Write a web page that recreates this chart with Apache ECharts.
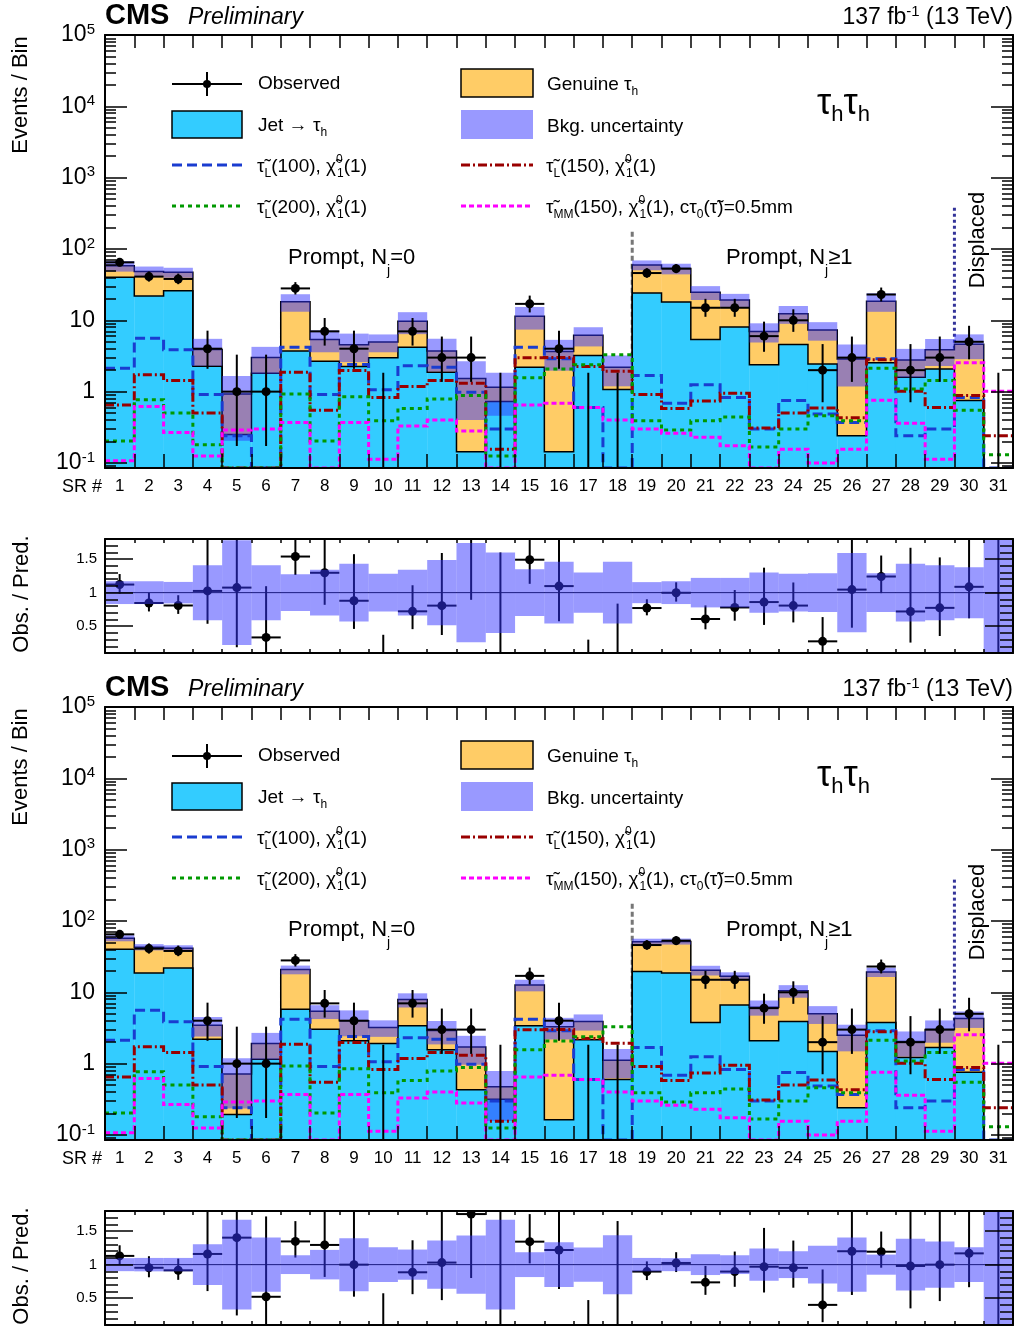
<!DOCTYPE html>
<html><head><meta charset="utf-8"><title>CMS tau_h tau_h signal regions</title>
<script src="https://cdn.jsdelivr.net/npm/echarts@6.0.0/dist/echarts.min.js"></script>
<style>html,body{margin:0;padding:0;background:#fff;}#chart{width:1016px;height:1330px;}</style>
</head><body><div id="chart"></div>
<script>
// ================= DATA =================
const binLabels = ['1','2','3','4','5','6','7','8','9','10','11','12','13','14','15','16','17','18','19','20','21','22','23','24','25','26','27','28','29','30','31'];
const observed = [65,41,38,4,1,1,28,7,4,0,7,3,3,0,17,4,0,0,46,53,15,15,6,10,2,3,23,2,3,5,0];
const obsLow  = [57.2,34.9,32.1,2.09,0.173,0.173,23.0,4.42,2.09,0,4.42,1.37,1.37,0,12.9,2.09,0,0,39.5,46.0,11.2,11.2,3.62,6.89,0.71,1.37,18.4,0.71,1.37,2.84,0];
const obsHigh = [74.1,48.4,45.2,7.16,3.30,3.30,34.3,10.77,7.16,1.84,10.77,5.92,5.92,1.84,22.2,7.16,1.84,1.84,53.8,61.3,20.0,20.0,9.58,14.27,4.64,5.92,28.8,4.64,5.92,8.38,1.84];

// upper chart
const jetPrefit     = [40,22,26,2.27,0.25,1.81,3.7,2.67,2.25,2.98,4.2,1.87,0.144,0.73,2.2,0.144,3.2,1.07,24.2,18.1,5.4,8.05,2.38,4.59,2.45,0.24,2.54,1.59,2.08,0.75,0];
const genuinePrefit = [18,26.5,21,1.63,0.68,1.2,14.5,2.73,2.3,1.97,5.5,1.85,1.39,0.42,9.2,3.5,2.95,1.13,35.5,35,19.3,11.2,4.6,7.8,4.85,2.63,16,1.19,1.8,3.85,0];
const uncPrefit     = [0.17,0.17,0.16,0.41,0.78,0.41,0.275,0.34,0.43,0.28,0.34,0.485,0.74,0.6,0.35,0.46,0.30,0.46,0.157,0.17,0.22,0.22,0.30,0.28,0.29,0.59,0.29,0.43,0.41,0.38,0];
// lower chart
const jetPostfit     = [40,18.7,22,2.2,0.193,1.15,5.8,3.04,2.09,1.91,3.4,1.56,0.43,0.316,3.4,0.164,2.16,0.60,19.6,18.7,3.78,6.63,2.09,3.9,1.48,0.24,3.78,1.22,1.68,0.76,0];
const genuinePostfit = [17.5,24.3,19.5,1.25,0.52,0.77,15,2.37,1.91,1.3,4.5,1.35,1.28,0.158,9.26,3.12,1.74,0.515,31.7,33,16.6,10.1,4.1,6.6,3.52,2.26,15.5,0.82,1.32,3.52,0];
const uncPostfit     = [0.097,0.1,0.1,0.305,0.67,0.405,0.14,0.22,0.395,0.26,0.225,0.36,0.435,0.67,0.185,0.335,0.255,0.44,0.1,0.097,0.155,0.14,0.24,0.2,0.28,0.405,0.15,0.385,0.345,0.26,0];

// signals (same in both charts)
const sigStauL100  = [2.13,5.6,3.87,0.91,0.24,0,4.2,0.91,2.4,1.06,2.3,2.2,0.98,0.30,4.2,2.9,0.60,0,1.68,0.69,1.25,0.83,0.30,0.75,0.485,0.37,2.9,0.24,0.30,0.83,0];
const sigStauL150  = [0.65,1.72,1.43,0.50,0,0,1.87,0.55,1.98,0.83,1.18,1.43,1.31,0.156,2.98,3.0,2.25,1.93,0.91,0.58,0.74,0.95,0.31,0.50,0.59,0.43,2.8,1.01,0.60,0.88,0.24];
const sigStauL200  = [0.204,0.77,0.50,0.18,0,0,0.93,0.204,0.85,0.39,0.58,0.79,0.88,0.125,1.56,2.08,2.38,3.28,0.39,0.29,0.39,0.44,0.168,0.30,0.46,0.39,2.13,1.09,1.43,0.55,0.13];
const sigStauMM150 = [0.107,0.62,0.267,0.125,0.29,0.30,0.37,0,0.37,0.113,0.33,0.40,0.28,0,0.65,0.69,0.60,0.40,0.30,0.26,0.23,0.174,0,0.156,0.10,0.156,0.76,0.36,0.113,2.54,1.01];

// region separators: bin edge index and top value
const regionEdges = [18, 29];
const regionTops  = [175, 380];

// tick labels
const mainYTickExp  = [-1, 0, 1, 2, 3, 4, 5];
const mainYTickText = ['{b|10}{s|-1}', '{b|1}', '{b|10}', '{b|10}{s|2}', '{b|10}{s|3}', '{b|10}{s|4}', '{b|10}{s|5}'];
const ratioYTicks    = [0.5, 1, 1.5];
const ratioYTickText = ['0.5', '1', '1.5'];

// ================= STYLE / LAYOUT =================
const FONT = "'Liberation Sans', Arial, Helvetica, sans-serif";
const YMIN = 0.085, YMAX = 1e5, RMIN = 0.1, RMAX = 1.8;
const LOGMIN = Math.log10(YMIN);
const C_JET = '#33ccff', C_GEN = '#ffcc66', C_BAND = 'rgba(51,51,255,0.5)', C_BAND_LEG = '#9999ff';
const SIG_STYLE = [
  {arr: sigStauL100,  color: '#1a3cd0', dash: [10, 5]},
  {arr: sigStauL150,  color: '#990000', dash: [9, 3, 2, 3]},
  {arr: sigStauL200,  color: '#009900', dash: [4, 4]},
  {arr: sigStauMM150, color: '#ff00ff', dash: [5, 3]}
];
const REGION_STYLE = [{color: '#777777', dash: [5, 3]}, {color: '#333399', dash: [3, 3]}];
const panels = [
  {dy: 0,   jet: jetPrefit,  gen: genuinePrefit,  unc: uncPrefit},
  {dy: 672, jet: jetPostfit, gen: genuinePostfit, unc: uncPostfit}
];

const minorExp = [];
for (let d = -2; d <= 4; d++) for (let k = 2; k <= 9; k++) {
  const v = k * Math.pow(10, d);
  if (v > YMIN && v < YMAX) minorExp.push(Math.log10(v));
}

function lv(v) { return v > YMIN ? v : YMIN; }
function rc(v) { return Math.min(Math.max(v, RMIN - 0.3), RMAX + 0.3); }
function edgeX(api, i) {
  const a = api.coord([0, 1])[0], b = api.coord([1, 1])[0];
  return a + (i - 0.5) * (b - a);
}
function ln(x1, y1, x2, y2, stroke, w, dash) {
  return {type: 'line', shape: {x1, y1, x2, y2}, style: {stroke, lineWidth: w, lineDash: dash || null, fill: 'none'}};
}
const tickLine = {color: '#000', width: 1.5};
const frameLine = {color: '#000', width: 2};

const grids = [], xAxes = [], yAxes = [], series = [], gfx = [];

function xAx(g, pos, showLabels, len) {
  return {type: 'category', gridIndex: g, position: pos, data: binLabels, boundaryGap: true, z: 10,
    axisLine: {show: true, onZero: false, lineStyle: frameLine},
    axisTick: {show: true, inside: true, length: len, interval: 0, alignWithLabel: false, lineStyle: tickLine},
    axisLabel: {show: showLabels, interval: 0, margin: 10, color: '#000', fontSize: 17, fontFamily: FONT},
    splitLine: {show: false}};
}
function yLog(g, pos) {
  return {type: 'log', logBase: 10, gridIndex: g, position: pos, min: YMIN, max: YMAX, z: 10,
    axisLine: {show: true, onZero: false, lineStyle: frameLine},
    axisTick: {show: false}, axisLabel: {show: false}, splitLine: {show: false}};
}
function yExp(g, pos, values, len, labels) {
  return {type: 'value', gridIndex: g, position: pos, min: LOGMIN, max: 5, z: 10,
    axisLine: {show: false, onZero: false},
    axisTick: {show: true, inside: true, length: len, customValues: values, lineStyle: tickLine},
    axisLabel: labels ? {show: true, customValues: values, margin: 10,
      formatter: v => { const k = mainYTickExp.findIndex(e => Math.abs(e - v) < 1e-6); return k >= 0 ? mainYTickText[k] : ''; },
      rich: {b: {fontSize: 23, lineHeight: 26, fontFamily: FONT, color: '#000'},
             s: {fontSize: 15, lineHeight: 15, verticalAlign: 'top', fontFamily: FONT, color: '#000'}}} : {show: false},
    splitLine: {show: false}};
}
function yRatioMinor(g, pos) {
  return {type: 'value', gridIndex: g, position: pos, min: RMIN, max: RMAX, interval: 0.1, z: 10,
    axisLine: {show: true, onZero: false, lineStyle: frameLine},
    axisTick: {show: true, inside: true, length: 13, lineStyle: tickLine},
    axisLabel: {show: false}, splitLine: {show: false}};
}
function yRatioMajor(g, pos, labels) {
  return {type: 'value', gridIndex: g, position: pos, min: RMIN, max: RMAX, z: 10,
    axisLine: {show: false, onZero: false},
    axisTick: {show: true, inside: true, length: 28, customValues: ratioYTicks, lineStyle: tickLine},
    axisLabel: labels ? {show: true, customValues: ratioYTicks, margin: 8, color: '#000', fontSize: 15, fontFamily: FONT,
      formatter: v => { const k = ratioYTicks.findIndex(e => Math.abs(e - v) < 1e-6); return k >= 0 ? ratioYTickText[k] : ''; }} : {show: false},
    splitLine: {show: false}};
}

const binData = binLabels.map((b, i) => [i, 1]);

function richText(x, y, text, rich, align, extra) {
  return Object.assign({type: 'text', silent: true, x: x, y: y,
    style: {x: 0, y: 0, text: text, rich: rich, align: align || 'left', verticalAlign: 'middle', fill: '#000'}}, extra || {});
}
const R = (size, o) => Object.assign({fontSize: size, fontFamily: FONT, fill: '#000'}, o || {});
const legRich = {
  t: R(19, {lineHeight: 26}),
  sub: R(12, {lineHeight: 12, verticalAlign: 'bottom'}),
  sup: R(12, {lineHeight: 12, verticalAlign: 'top'}),
  supz: R(12, {lineHeight: 12, verticalAlign: 'top', width: 1})
};

panels.forEach((P, k) => {
  const dy = P.dy;
  const total = P.jet.map((j, i) => j + P.gen[i]);
  const gM = grids.length;
  grids.push({left: 105, right: 3, top: 35 + dy, height: 433, containLabel: false, outerBoundsMode: 'none'});
  const gR = grids.length;
  grids.push({left: 105, right: 3, top: 539 + dy, height: 114, containLabel: false, outerBoundsMode: 'none'});

  const xM = xAxes.length; xAxes.push(xAx(gM, 'bottom', true, 14)); xAxes.push(xAx(gM, 'top', false, 13));
  const xR = xAxes.length; xAxes.push(xAx(gR, 'bottom', false, 4)); xAxes.push(xAx(gR, 'top', false, 4));

  const yM = yAxes.length;
  yAxes.push(yLog(gM, 'left'));
  yAxes.push(yExp(gM, 'left', mainYTickExp, 22, true));
  yAxes.push(yExp(gM, 'left', minorExp, 11, false));
  yAxes.push(yLog(gM, 'right'));
  yAxes.push(yExp(gM, 'right', mainYTickExp, 22, false));
  yAxes.push(yExp(gM, 'right', minorExp, 11, false));
  const yR = yAxes.length;
  yAxes.push(yRatioMinor(gR, 'left'));
  yAxes.push(yRatioMajor(gR, 'left', true));
  yAxes.push(yRatioMinor(gR, 'right'));
  yAxes.push(yRatioMajor(gR, 'right', false));

  // region separator lines (behind everything)
  series.push({type: 'custom', xAxisIndex: xM, yAxisIndex: yM, clip: true, z: 1, silent: true, data: [[0, 1]],
    renderItem(params, api) {
      const ch = regionEdges.map((e, n) => {
        const x = edgeX(api, e);
        return ln(x, api.coord([0, regionTops[n]])[1], x, api.coord([0, YMIN])[1], REGION_STYLE[n].color, 3, REGION_STYLE[n].dash);
      });
      return {type: 'group', children: ch};
    }});
  // stacked fills
  series.push({type: 'custom', xAxisIndex: xM, yAxisIndex: yM, clip: true, z: 2, silent: true, data: binData,
    renderItem(params, api) {
      const i = api.value(0);
      const x0 = edgeX(api, i), x1 = edgeX(api, i + 1);
      const yb = api.coord([i, YMIN])[1], yj = api.coord([i, lv(P.jet[i])])[1], yt = api.coord([i, lv(total[i])])[1];
      return {type: 'group', children: [
        {type: 'rect', shape: {x: x0, y: yj, width: x1 - x0 + 0.3, height: yb - yj}, style: {fill: C_JET}},
        {type: 'rect', shape: {x: x0, y: yt, width: x1 - x0 + 0.3, height: yj - yt}, style: {fill: C_GEN}}
      ]};
    }});
  // histogram outlines
  series.push({type: 'custom', xAxisIndex: xM, yAxisIndex: yM, clip: true, z: 3, silent: true, data: [[0, 1]],
    renderItem(params, api) {
      const yb = api.coord([0, YMIN])[1];
      const ch = [P.jet, total].map(arr => {
        const pts = [[edgeX(api, 0), yb]];
        arr.forEach((v, i) => { const y = api.coord([i, lv(v)])[1]; pts.push([edgeX(api, i), y], [edgeX(api, i + 1), y]); });
        pts.push([edgeX(api, arr.length), yb]);
        return {type: 'polyline', shape: {points: pts}, style: {stroke: '#000', lineWidth: 1.5, fill: 'none'}};
      });
      return {type: 'group', children: ch};
    }});
  // uncertainty band
  series.push({type: 'custom', xAxisIndex: xM, yAxisIndex: yM, clip: true, z: 4, silent: true, data: binData,
    renderItem(params, api) {
      const i = api.value(0), t = total[i], u = P.unc[i];
      if (!(t > 0)) return null;
      const x0 = edgeX(api, i), x1 = edgeX(api, i + 1);
      const yh = api.coord([i, lv(t * (1 + u))])[1], yl = api.coord([i, lv(t * (1 - u))])[1];
      return {type: 'rect', shape: {x: x0, y: yh, width: x1 - x0, height: yl - yh}, style: {fill: C_BAND}};
    }});
  // signal lines
  SIG_STYLE.forEach(S => {
    series.push({type: 'custom', xAxisIndex: xM, yAxisIndex: yM, clip: true, z: 5, silent: true, data: [[0, 1]],
      renderItem(params, api) {
        const pts = [];
        S.arr.forEach((v, i) => { const y = api.coord([i, lv(v)])[1]; pts.push([edgeX(api, i), y], [edgeX(api, i + 1), y]); });
        return {type: 'polyline', shape: {points: pts}, style: {stroke: S.color, lineWidth: 3, lineDash: S.dash, fill: 'none', lineCap: 'butt'}};
      }});
  });
  // observed data
  series.push({type: 'custom', xAxisIndex: xM, yAxisIndex: yM, clip: true, z: 6, silent: true, data: binData,
    renderItem(params, api) {
      const i = api.value(0), n = observed[i];
      const x0 = edgeX(api, i), x1 = edgeX(api, i + 1), xc = (x0 + x1) / 2;
      const Y = v => api.coord([i, lv(v)])[1];
      const ch = [];
      if (n === 0) {
        ch.push(ln(xc, Y(YMIN), xc, Y(obsHigh[i]), '#000', 2));
      } else {
        ch.push(ln(xc, Y(obsLow[i]), xc, Y(obsHigh[i]), '#000', 2));
        ch.push(ln(x0, Y(n), x1, Y(n), '#000', 2));
        ch.push({type: 'circle', shape: {cx: xc, cy: Y(n), r: 4.5}, style: {fill: '#000'}});
      }
      return {type: 'group', children: ch};
    }});

  // ---- ratio panel ----
  series.push({type: 'custom', xAxisIndex: xR, yAxisIndex: yR, clip: true, z: 2, silent: true, data: [[0, 1]],
    renderItem(params, api) {
      const y = api.coord([0, 1])[1];
      return ln(edgeX(api, 0), y, edgeX(api, binLabels.length), y, '#000', 1);
    }});
  series.push({type: 'custom', xAxisIndex: xR, yAxisIndex: yR, clip: true, z: 3, silent: true, data: binData,
    renderItem(params, api) {
      const i = api.value(0), n = observed[i], t = total[i];
      const x0 = edgeX(api, i), x1 = edgeX(api, i + 1), xc = (x0 + x1) / 2;
      const Y = v => api.coord([i, rc(v)])[1];
      const ch = [];
      if (!(t > 0)) {
        ch.push(ln(xc, Y(RMIN - 1), xc, Y(RMAX + 1), '#000', 2));
      } else if (n === 0) {
        ch.push(ln(xc, Y(RMIN - 1), xc, Y(obsHigh[i] / t), '#000', 2));
      } else {
        const r = n / t;
        ch.push(ln(xc, Y(obsLow[i] / t), xc, Y(obsHigh[i] / t), '#000', 2));
        ch.push(ln(x0, Y(r), x1, Y(r), '#000', 2));
        ch.push({type: 'circle', shape: {cx: xc, cy: Y(r), r: 4.5}, style: {fill: '#000'}});
      }
      return {type: 'group', children: ch};
    }});
  series.push({type: 'custom', xAxisIndex: xR, yAxisIndex: yR, clip: true, z: 4, silent: true, data: binData,
    renderItem(params, api) {
      const i = api.value(0), t = total[i], u = P.unc[i];
      const x0 = edgeX(api, i), x1 = edgeX(api, i + 1);
      const hi = t > 0 ? rc(1 + u) : RMAX + 0.3, lo = t > 0 ? rc(1 - u) : RMIN - 0.3;
      const yh = api.coord([i, hi])[1], yl = api.coord([i, lo])[1];
      return {type: 'rect', shape: {x: x0, y: yh, width: x1 - x0, height: yl - yh}, style: {fill: C_BAND}};
    }});

  // ---- texts and legend ----
  gfx.push(richText(105, 16 + dy, '{a|CMS}', {a: R(29, {fontWeight: 'bold', lineHeight: 32})}));
  gfx.push(richText(188, 18 + dy, '{a|Preliminary}', {a: R(23, {fontStyle: 'italic', lineHeight: 26})}));
  gfx.push(richText(1013, 18 + dy, '{t|137 fb}{sup|-1}{t| (13 TeV)}',
    {t: R(23, {lineHeight: 28}), sup: R(15, {lineHeight: 15, verticalAlign: 'top'})}, 'right'));
  gfx.push(richText(21, 95 + dy, '{a|Events / Bin}', {a: R(22, {lineHeight: 26})}, 'center', {rotation: Math.PI / 2}));
  gfx.push(richText(22, 594 + dy, '{a|Obs. / Pred.}', {a: R(22, {lineHeight: 26})}, 'center', {rotation: Math.PI / 2}));
  gfx.push(richText(62, 487 + dy, '{a|SR #}', {a: R(18, {lineHeight: 20})}));
  const promptRich = {p: R(22, {lineHeight: 40}), ps: R(14, {lineHeight: 14, verticalAlign: 'bottom'})};
  gfx.push(richText(288, 258 + dy, '{p|Prompt, N}{ps|j}{p|=0}', promptRich));
  gfx.push(richText(726, 258 + dy, '{p|Prompt, N}{ps|j}{p|\u22651}', promptRich));
  gfx.push(richText(978, 240 + dy, '{a|Displaced}', {a: R(22, {lineHeight: 26})}, 'center', {rotation: Math.PI / 2}));
  gfx.push(richText(817, 104 + dy, '{b|\u03c4}{s|h}{b|\u03c4}{s|h}',
    {b: R(36, {lineHeight: 44}), s: R(22, {lineHeight: 22, verticalAlign: 'bottom'})}));

  // legend symbols
  gfx.push({type: 'line', silent: true, shape: {x1: 172, y1: 84 + dy, x2: 242, y2: 84 + dy}, style: {stroke: '#000', lineWidth: 2}});
  gfx.push({type: 'line', silent: true, shape: {x1: 207, y1: 72 + dy, x2: 207, y2: 96 + dy}, style: {stroke: '#000', lineWidth: 2}});
  gfx.push({type: 'circle', silent: true, shape: {cx: 207, cy: 84 + dy, r: 4}, style: {fill: '#000'}});
  gfx.push({type: 'rect', silent: true, shape: {x: 172, y: 111 + dy, width: 70, height: 27}, style: {fill: C_JET, stroke: '#000', lineWidth: 1.5}});
  gfx.push({type: 'line', silent: true, shape: {x1: 172, y1: 165 + dy, x2: 242, y2: 165 + dy}, style: {stroke: SIG_STYLE[0].color, lineWidth: 3, lineDash: SIG_STYLE[0].dash}});
  gfx.push({type: 'line', silent: true, shape: {x1: 172, y1: 206 + dy, x2: 242, y2: 206 + dy}, style: {stroke: SIG_STYLE[2].color, lineWidth: 3, lineDash: SIG_STYLE[2].dash}});
  gfx.push({type: 'rect', silent: true, shape: {x: 461, y: 69 + dy, width: 72, height: 28}, style: {fill: C_GEN, stroke: '#000', lineWidth: 1.5}});
  gfx.push({type: 'rect', silent: true, shape: {x: 461, y: 110 + dy, width: 72, height: 29}, style: {fill: C_BAND_LEG}});
  gfx.push({type: 'line', silent: true, shape: {x1: 461, y1: 165 + dy, x2: 533, y2: 165 + dy}, style: {stroke: SIG_STYLE[1].color, lineWidth: 3, lineDash: SIG_STYLE[1].dash}});
  gfx.push({type: 'line', silent: true, shape: {x1: 461, y1: 206 + dy, x2: 533, y2: 206 + dy}, style: {stroke: SIG_STYLE[3].color, lineWidth: 3, lineDash: SIG_STYLE[3].dash}});
  // legend texts
  const TT = '\u03c4\u0303', CHI = '\u03c7\u0303';
  gfx.push(richText(258, 84 + dy, '{t|Observed}', legRich));
  gfx.push(richText(258, 126 + dy, '{t|Jet \u2192 \u03c4}{sub|h}', legRich));
  gfx.push(richText(257, 167 + dy, '{t|' + TT + '}{sub|L}{t|(100), ' + CHI + '}{supz|0}{sub|1}{t|(1)}', legRich));
  gfx.push(richText(257, 208 + dy, '{t|' + TT + '}{sub|L}{t|(200), ' + CHI + '}{supz|0}{sub|1}{t|(1)}', legRich));
  gfx.push(richText(547, 85 + dy, '{t|Genuine \u03c4}{sub|h}', legRich));
  gfx.push(richText(547, 127 + dy, '{t|Bkg. uncertainty}', legRich));
  gfx.push(richText(546, 167 + dy, '{t|' + TT + '}{sub|L}{t|(150), ' + CHI + '}{supz|0}{sub|1}{t|(1)}', legRich));
  gfx.push(richText(546, 208 + dy, '{t|' + TT + '}{sub|MM}{t|(150), ' + CHI + '}{supz|0}{sub|1}{t|(1), c\u03c4}{sub|0}{t|(' + TT + ')=0.5mm}', legRich));
});

const chart = echarts.init(document.getElementById('chart'), null, {renderer: 'canvas', width: 1016, height: 1330});
chart.setOption({
  animation: false,
  backgroundColor: '#ffffff',
  grid: grids, xAxis: xAxes, yAxis: yAxes, series: series,
  graphic: {elements: gfx}
});
</script></body></html>
